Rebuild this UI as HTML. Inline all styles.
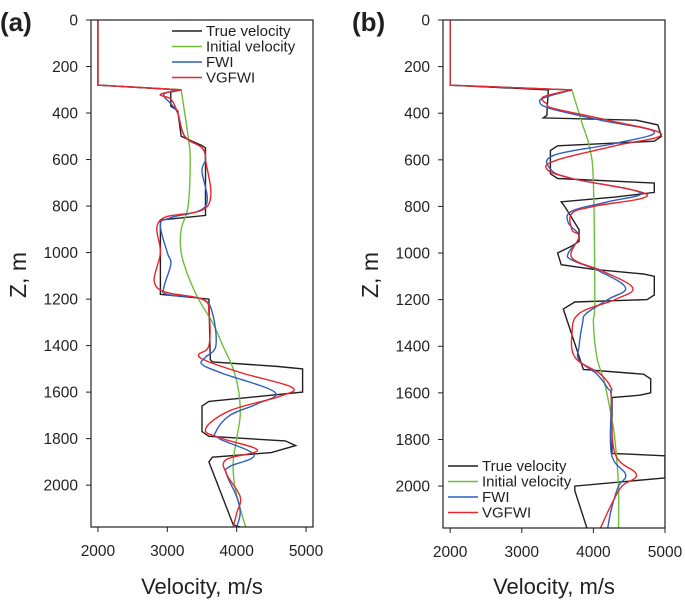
<!DOCTYPE html>
<html><head><meta charset="utf-8"><style>
html,body{margin:0;padding:0;background:#fff;}
svg{display:block;font-family:"Liberation Sans",Arial,sans-serif;}
</style></head><body>
<svg id="chart" width="685" height="605" viewBox="0 0 685 605"></svg>
<script>
// Panel (a) data: [depth, velocity]
const aTrue=[[0,2000],[280,2000],[300,3200],[310,3050],[370,3050],[390,3150],[500,3200],[540,3500],[550,3550],[840,3550],[860,2900],[1180,2900],[1200,3600],[1460,3620],[1470,3650],[1490,4600],[1500,4950],[1600,4950],[1640,3600],[1660,3500],[1770,3500],[1790,3600],[1810,4700],[1830,4850],[1860,4500],[1880,3650],[1900,3600],[2170,3950],[2180,4050]];
const aInit=[[0,2000],[280,2000],[300,3200],[500,3300],[600,3330],[800,3300],[900,3200],[1000,3200],[1100,3300],[1200,3450],[1300,3650],[1400,3800],[1500,3950],[1600,4030],[1700,4050],[1800,4000],[1900,3950],[2000,3970],[2100,4050],[2180,4130]];
const aFwi=[[0,2000],[280,2000],[300,3150],[320,2950],[360,3050],[400,3150],[500,3250],[550,3500],[600,3550],[650,3500],[800,3550],[850,3050],[880,2900],[1000,3000],[1050,3050],[1150,2950],[1180,3000],[1200,3500],[1260,3650],[1400,3700],[1450,3550],[1480,3500],[1520,3800],[1600,4550],[1650,4300],[1700,3900],[1770,3700],[1800,3750],[1870,4250],[1920,3900],[1950,3850],[2050,4000],[2120,4050],[2180,4000]];
const aVg=[[0,2000],[280,2000],[300,3200],[320,2900],[340,3050],[400,3150],[500,3250],[550,3500],[600,3550],[800,3580],[860,2900],[1000,2900],[1150,2850],[1200,3500],[1260,3600],[1400,3600],[1440,3450],[1470,3600],[1520,4100],[1580,4800],[1620,4600],[1680,3900],[1760,3550],[1800,3800],[1850,4300],[1890,3850],[1950,3850],[2050,4050],[2120,4000],[2180,3950]];
// Panel (b) data
const bTrue=[[0,2000],[280,2000],[300,3370],[410,3350],[420,3300],[430,4600],[450,4900],[500,4950],[520,4850],[540,3500],[560,3400],[660,3400],[680,3500],[700,4850],[740,4850],[760,4300],[780,3550],[800,3600],[900,3800],[950,3800],[970,3700],[1000,3500],[1050,3550],[1070,4000],[1090,4700],[1100,4850],[1180,4850],[1200,4750],[1210,3740],[1240,3580],[1500,3860],[1520,4700],[1540,4800],[1600,4800],[1610,4650],[1620,4260],[1860,4260],[1870,5000],[1880,5000],[1965,5000],[2000,3740],[2020,3740],[2180,3910]];
const bInit=[[0,2000],[280,2000],[300,3700],[450,3850],[550,3950],[700,4000],[1200,4020],[1300,4000],[1450,4050],[1550,4150],[1700,4250],[1800,4300],[2000,4350],[2180,4350]];
const bFwi=[[0,2000],[280,2000],[300,3700],[330,3350],[350,3250],[380,3400],[430,4100],[480,4850],[530,4300],[580,3450],[640,3400],[680,3700],[740,4650],[780,4200],[820,3700],[870,3650],[930,3800],[1000,3650],[1030,3700],[1080,4100],[1150,4450],[1200,4200],[1260,3900],[1300,3850],[1400,3800],[1460,3800],[1520,4050],[1580,4200],[1620,4250],[1860,4250],[1950,4450],[2000,4350],[2100,4250],[2180,4200]];
const bVg=[[0,2000],[280,2000],[300,3700],[330,3300],[360,3350],[380,3450],[430,4200],[490,4950],[540,4300],[600,3500],[640,3350],[680,3700],[750,4750],[800,4000],[830,3700],[900,3700],[930,3800],[1020,3700],[1080,4150],[1150,4550],[1200,4300],[1260,3800],[1350,3700],[1450,3750],[1520,4100],[1580,4250],[1620,4250],[1860,4300],[1950,4600],[2000,4400],[2080,4250],[2180,4100]];
const yTicks=[0,200,400,600,800,1000,1200,1400,1600,1800,2000];
const xTicks=[2000,3000,4000,5000];
const legendLabels=["True velocity","Initial velocity","FWI","VGFWI"];
const colors=["#231f20","#6cbf3a","#2e5fbf","#e8262b"];

const NS="http://www.w3.org/2000/svg";
const svg=document.getElementById('chart');
function mk(tag,attrs,parent){const e=document.createElementNS(NS,tag);for(const k in attrs)e.setAttribute(k,attrs[k]);(parent||svg).appendChild(e);return e;}

function smoothPath(pts){
  let d='M'+pts[0][0].toFixed(1)+','+pts[0][1].toFixed(1);
  for(let i=0;i<pts.length-1;i++){
    const p0=pts[i-1]||pts[i],p1=pts[i],p2=pts[i+1],p3=pts[i+2]||p2;
    const t=0.18;
    const c1=[p1[0]+(p2[0]-p0[0])*t,p1[1]+(p2[1]-p0[1])*t];
    const c2=[p2[0]-(p3[0]-p1[0])*t,p2[1]-(p3[1]-p1[1])*t];
    d+='C'+c1[0].toFixed(1)+','+c1[1].toFixed(1)+' '+c2[0].toFixed(1)+','+c2[1].toFixed(1)+' '+p2[0].toFixed(1)+','+p2[1].toFixed(1);
  }
  return d;
}

function panel(p){
  const g=mk('g',{});
  
  
  const xs=v=>p.x0+(v-p.vmin)/(p.vmax-p.vmin)*(p.x1-p.x0);
  const ys=z=>p.y0+(z-0)/(2180)*(p.y1-p.y0);
  const clip=mk('clipPath',{id:'clip'+p.id},g);
  mk('rect',{x:p.x0,y:p.y0,width:p.x1-p.x0,height:p.y1-p.y0},clip);
  const series=[p.t,p.i,p.f,p.v];
  const names=['true-velocity-line','initial-velocity-line','fwi-line','vgfwi-line'];
  [0,1,2,3].forEach(k=>{
    const pts=series[k].map(pt=>[xs(pt[1]),ys(pt[0])]);
    let d;
    if(k===0){d=pts.map((q,j)=>(j?'L':'M')+q[0].toFixed(1)+','+q[1].toFixed(1)).join('');}
    else{
      // straight segment for the surface layer, smooth afterwards
      const head=pts.slice(0,3);
      const tail=pts.slice(2);
      d='M'+head[0][0].toFixed(1)+','+head[0][1].toFixed(1)+'L'+head[1][0].toFixed(1)+','+head[1][1].toFixed(1)+'L'+head[2][0].toFixed(1)+','+head[2][1].toFixed(1)+smoothPath(tail).replace(/^M[^C]*/,'');
    }
    const path=mk('path',{d:d,fill:'none',stroke:colors[k],'stroke-width':1.4,'clip-path':'url(#clip'+p.id+')'},g);
    
    
  });
  const frame=mk('rect',{x:p.x0,y:p.y0,width:p.x1-p.x0,height:p.y1-p.y0,fill:'none',stroke:'#231f20','stroke-width':1.2},g);
  
  
  yTicks.forEach(t=>{
    const y=ys(t);
    mk('line',{x1:p.x0-5,x2:p.x0,y1:y,y2:y,stroke:'#231f20','stroke-width':1},g);
    const tx=mk('text',{x:p.x0-13,y:y+5.5,'text-anchor':'end','font-size':15.5,fill:'#231f20'},g);
    tx.textContent=t;
    
    
  });
  xTicks.forEach(t=>{
    const x=xs(t);
    mk('line',{x1:x,x2:x,y1:p.y1,y2:p.y1+5,stroke:'#231f20','stroke-width':1},g);
    const tx=mk('text',{x:x,y:p.y1+29,'text-anchor':'middle','font-size':15.5,fill:'#231f20'},g);
    tx.textContent=t;
    
    
  });
  const xt=mk('text',{x:(p.x0+p.x1)/2,y:594,'text-anchor':'middle','font-size':22,fill:'#231f20'},g);
  xt.textContent='Velocity, m/s';
  
  
  const yt=mk('text',{x:0,y:0,'text-anchor':'middle','font-size':23,fill:'#231f20',transform:'translate('+(p.x0-65)+',275) rotate(-90)'},g);
  yt.textContent='Z, m';
  
  
  const lb=mk('text',{x:p.x0-91,y:31,'font-size':26,'font-weight':'bold',fill:'#231f20'},g);
  lb.textContent='('+p.id+')';
  
  
  const lg=mk('g',{},g);
  
  
  legendLabels.forEach((s,k)=>{
    const y=p.ly+k*15.5;
    mk('line',{x1:p.lx,x2:p.lx+30,y1:y,y2:y,stroke:colors[k],'stroke-width':1.4},lg);
    const t=mk('text',{x:p.lx+34,y:y+5,'font-size':15,fill:'#231f20'},lg);
    t.textContent=s;
    
    
  });
}
panel({id:'a',x0:91,x1:313,y0:20,y1:527,vmin:1900,vmax:5100,t:aTrue,i:aInit,f:aFwi,v:aVg,lx:172,ly:31});
panel({id:'b',x0:443,x1:665,y0:20,y1:528,vmin:1900,vmax:5000,t:bTrue,i:bInit,f:bFwi,v:bVg,lx:448,ly:466});
</script>
</body></html>
